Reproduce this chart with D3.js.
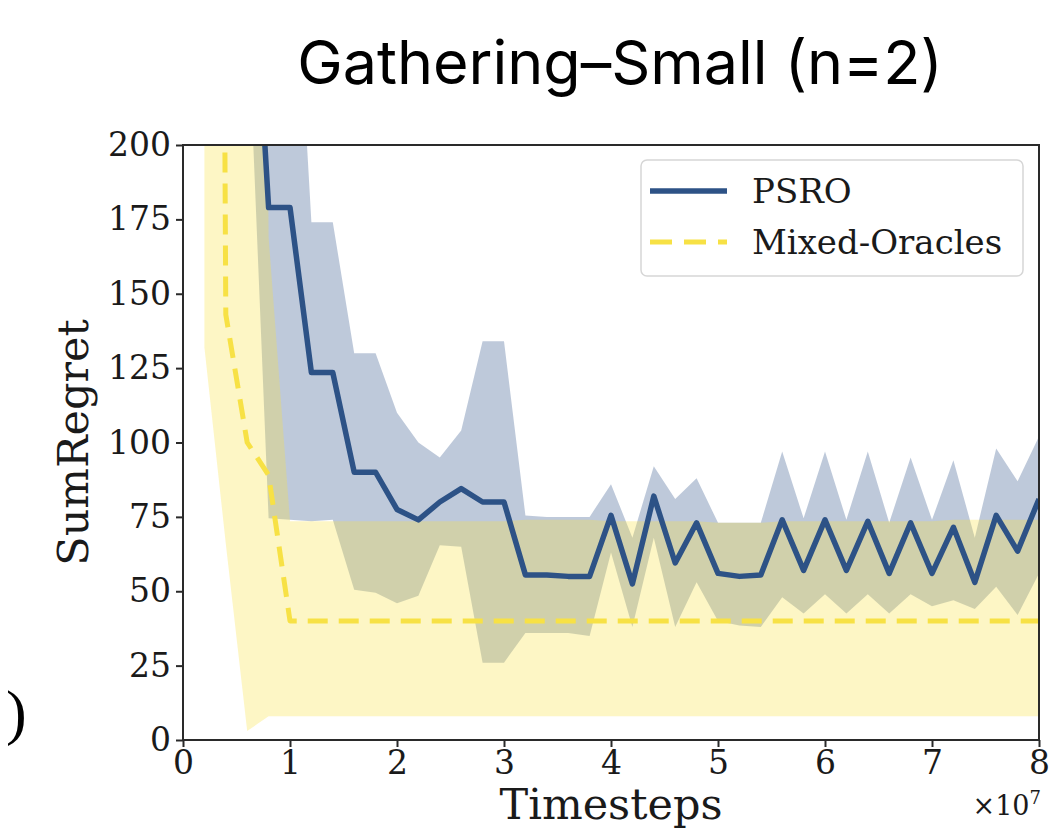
<!DOCTYPE html>
<html>
<head>
    <meta charset="utf-8">
    <title>Gathering-Small (n=2)</title>
    <style>
        body { margin: 0; background: #fff; }
        svg { display: block; }
        .title { font-family: Inter, "Noto Sans", sans-serif; font-size: 61px; fill: #000; }
        .axis text { font-family: "DejaVu Serif", serif; font-size: 33px; fill: #1a1a1a; }
        .axis path, .axis line { stroke: #2a2a2a; stroke-width: 2; }
        .label { font-family: "DejaVu Serif", serif; font-size: 43px; fill: #1a1a1a; }
        .legend text { font-family: "DejaVu Serif", serif; font-size: 34px; fill: #1a1a1a; }
    </style>
    <script src="https://cdn.jsdelivr.net/npm/d3@7/dist/d3.min.js"></script>
</head>
<body>
<svg id="chart" width="1059" height="830"></svg>
<script>
    // timesteps of each evaluation
    const timesteps = [2e6, 4e6, 6e6, 8e6, 10e6, 12e6, 14e6, 16e6, 18e6, 20e6,
                       22e6, 24e6, 26e6, 28e6, 30e6, 32e6, 34e6, 36e6, 38e6, 40e6,
                       42e6, 44e6, 46e6, 48e6, 50e6, 52e6, 54e6, 56e6, 58e6, 60e6,
                       62e6, 64e6, 66e6, 68e6, 70e6, 72e6, 74e6, 76e6, 78e6, 80e6];

    const psroMean  = [420, 360, 300, 179, 179, 123.5, 123.5, 90, 90, 77.5,
                       74, 80, 84.5, 80, 80, 55.5, 55.5, 55, 55, 75.5,
                       52.5, 82, 59.5, 73, 56, 55, 55.5, 74, 57, 74,
                       57, 73.5, 56, 73, 56, 71.5, 53, 75.5, 63.5, 81];
    const psroUpper = [500, 450, 400, 300, 300, 174, 174, 130, 130, 110,
                       100, 95, 104, 134, 134, 75.5, 75, 75, 75, 86,
                       68, 92, 81, 88, 73, 73, 73, 97, 74.5, 97,
                       74, 97, 73, 95, 74, 94, 68, 98, 87, 102];
    const psroLower = [330, 290, 250, 74.5, 74, 73.5, 74, 50.5, 49.5, 46,
                       48.5, 65.5, 65, 26, 26, 36, 36, 36, 35, 63,
                       38, 68, 38, 53, 40, 38.5, 38, 48, 42.5, 49,
                       42.5, 49, 42.5, 49, 45, 47, 44, 51.5, 42, 56];

    const moMean  = [1500, 143, 100, 89, 40, 40, 40, 40, 40, 40,
                     40, 40, 40, 40, 40, 40, 40, 40, 40, 40,
                     40, 40, 40, 40, 40, 40, 40, 40, 40, 40,
                     40, 40, 40, 40, 40, 40, 40, 40, 40, 40];
    const moUpper = [2000, 1800, 1000, 169, 73.5, 73.5, 73.5, 73.5, 73.5, 73.5,
                     73.5, 73.5, 73.5, 73.5, 73.5, 74, 74, 74, 74, 73.5,
                     73.5, 73.5, 73.5, 73.5, 73, 73, 73, 73.5, 73.5, 73.5,
                     73.5, 73.5, 73.5, 73.5, 73.5, 74, 74, 74, 74, 74];
    const moLower = [132, 66, 3, 8, 8, 8, 8, 8, 8, 8,
                     8, 8, 8, 8, 8, 8, 8, 8, 8, 8,
                     8, 8, 8, 8, 8, 8, 8, 8, 8, 8,
                     8, 8, 8, 8, 8, 8, 8, 8, 8, 8];

    const xTicks = [0, 1e7, 2e7, 3e7, 4e7, 5e7, 6e7, 7e7, 8e7];
    const yTicks = [0, 25, 50, 75, 100, 125, 150, 175, 200];

    const series = [
        { name: "PSRO", mean: psroMean, upper: psroUpper, lower: psroLower, colour: "#2d5286", dash: null },
        { name: "Mixed-Oracles", mean: moMean, upper: moUpper, lower: moLower, colour: "#f7e145", dash: "20,11" }
    ];

    const plotLeft = 183, plotRight = 1039, plotTop = 145, plotBottom = 740;

    const x = d3.scaleLinear().domain([0, 8e7]).range([plotLeft, plotRight]);
    const y = d3.scaleLinear().domain([0, 200]).range([plotBottom, plotTop]);

    const svg = d3.select("#chart");

    svg.append("defs").append("clipPath").attr("id", "plot-clip")
        .append("rect")
        .attr("x", plotLeft).attr("y", plotTop)
        .attr("width", plotRight - plotLeft).attr("height", plotBottom - plotTop);

    const plot = svg.append("g").attr("clip-path", "url(#plot-clip)");

    // shaded bands first, then the lines on top
    series.forEach(s => {
        const area = d3.area()
            .x((d, i) => x(timesteps[i]))
            .y0((d, i) => y(s.lower[i]))
            .y1((d, i) => y(s.upper[i]));
        plot.append("path")
            .datum(timesteps)
            .attr("d", area)
            .attr("fill", s.colour)
            .attr("fill-opacity", 0.31);
    });

    series.forEach(s => {
        const line = d3.line()
            .x((d, i) => x(timesteps[i]))
            .y(d => y(d));
        plot.append("path")
            .datum(s.mean)
            .attr("d", line)
            .attr("fill", "none")
            .attr("stroke", s.colour)
            .attr("stroke-width", s.dash ? 5 : 5.5)
            .attr("stroke-linejoin", "round")
            .attr("stroke-dasharray", s.dash);
    });

    // axes
    svg.append("g")
        .attr("class", "axis")
        .attr("transform", `translate(0,${plotBottom})`)
        .call(d3.axisBottom(x).tickValues(xTicks).tickSize(7).tickPadding(4)
            .tickFormat(d => d / 1e7))
        .call(g => g.select(".domain").remove());

    svg.append("g")
        .attr("class", "axis")
        .attr("transform", `translate(${plotLeft},0)`)
        .call(d3.axisLeft(y).tickValues(yTicks).tickSize(7).tickPadding(5))
        .call(g => g.select(".domain").remove());

    svg.append("rect")
        .attr("x", plotLeft).attr("y", plotTop)
        .attr("width", plotRight - plotLeft).attr("height", plotBottom - plotTop)
        .attr("fill", "none")
        .attr("stroke", "#2a2a2a")
        .attr("stroke-width", 2);

    // x offset text
    const offset = svg.append("text")
        .attr("class", "label")
        .attr("x", plotRight + 2)
        .attr("y", 815)
        .attr("text-anchor", "end")
        .style("font-size", "27px");
    offset.append("tspan").text("×10");
    offset.append("tspan").attr("dy", -11).style("font-size", "18px").text("7");

    svg.append("text")
        .attr("class", "label")
        .attr("x", (plotLeft + plotRight) / 2)
        .attr("y", 819)
        .attr("text-anchor", "middle")
        .text("Timesteps");

    svg.append("text")
        .attr("class", "label")
        .attr("transform", `translate(88,${(plotTop + plotBottom) / 2}) rotate(-90)`)
        .attr("text-anchor", "middle")
        .text("SumRegret");

    svg.append("text")
        .attr("class", "title")
        .attr("x", 620)
        .attr("y", 84)
        .attr("text-anchor", "middle")
        .text("Gathering–Small (n=2)");

    // stray bracket from the neighbouring panel
    svg.append("text")
        .attr("x", 6)
        .attr("y", 733)
        .style("font-family", "'Liberation Serif', serif")
        .style("font-size", "62px")
        .text(")");

    // legend
    const legend = svg.append("g").attr("class", "legend");
    legend.append("rect")
        .attr("x", 641).attr("y", 160)
        .attr("width", 382).attr("height", 116)
        .attr("rx", 6)
        .attr("fill", "#fff").attr("fill-opacity", 0.85)
        .attr("stroke", "#d6d6d6").attr("stroke-width", 1.5);

    series.forEach((s, i) => {
        const ly = 191 + i * 51;
        legend.append("line")
            .attr("x1", 650).attr("x2", 727)
            .attr("y1", ly).attr("y2", ly)
            .attr("stroke", s.colour)
            .attr("stroke-width", s.dash ? 5 : 5.5)
            .attr("stroke-dasharray", s.dash ? "22,12" : null);
        legend.append("text")
            .attr("x", 752)
            .attr("y", ly + 12)
            .text(s.name);
    });
</script>
</body>
</html>
